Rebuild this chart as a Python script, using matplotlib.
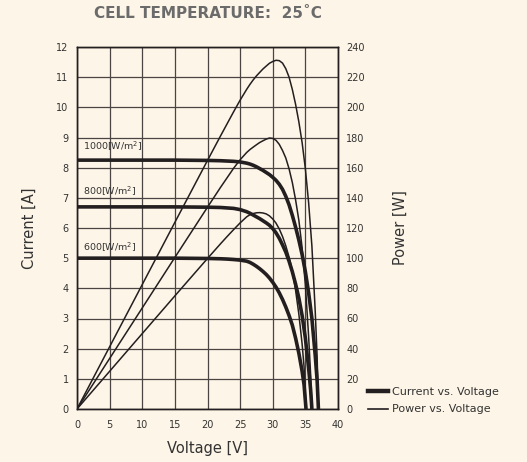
import matplotlib
matplotlib.use("Agg")
import matplotlib.pyplot as plt
from matplotlib.lines import Line2D

# ---------------- data ----------------
volt_1000 = [0, 5, 10, 15, 20, 22, 24, 25, 26, 26.5, 27, 27.5, 28, 28.5, 29, 29.5, 30, 30.5,
             31, 31.5, 32, 32.5, 33, 33.5, 34, 34.5, 35, 35.5, 36, 36.5, 36.8, 37]
curr_1000 = [8.25, 8.25, 8.25, 8.25, 8.24, 8.23, 8.21, 8.19, 8.15, 8.12, 8.08, 8.03, 7.97, 7.91,
             7.84, 7.77, 7.68, 7.58, 7.45, 7.28, 7.05, 6.77, 6.42, 6.03, 5.60, 5.12, 4.55, 3.85,
             3.00, 1.80, 0.95, 0]
power_1000 = [0, 41.25, 82.5, 123.75, 164.8, 181.06, 197.04, 204.75, 211.9, 215.18, 218.16,
              220.83, 223.16, 225.44, 227.36, 229.22, 230.4, 231.19, 230.95, 229.32, 225.6,
              220.03, 211.86, 202.01, 190.4, 176.64, 159.25, 136.68, 108.0, 65.7, 34.96, 0]

volt_800 = [0, 5, 10, 15, 20, 22, 24, 25, 26, 26.5, 27, 27.5, 28, 28.5, 29, 29.5, 30, 30.5,
            31, 31.5, 32, 32.5, 33, 33.5, 34, 34.5, 35, 35.5, 35.8, 36]
curr_800 = [6.70, 6.70, 6.70, 6.70, 6.69, 6.68, 6.65, 6.61, 6.54, 6.49, 6.43, 6.37, 6.31, 6.24,
            6.17, 6.09, 5.98, 5.84, 5.66, 5.44, 5.20, 4.90, 4.55, 4.14, 3.68, 3.10, 2.35, 1.35,
            0.65, 0]
power_800 = [0, 33.5, 67, 100.5, 133.8, 146.96, 159.6, 165.25, 170.04, 171.99, 173.61, 175.18,
             176.68, 177.84, 178.93, 179.66, 179.4, 178.12, 175.46, 171.36, 166.4, 159.25,
             150.15, 138.69, 125.12, 106.95, 82.25, 47.93, 23.27, 0]

volt_600 = [0, 5, 10, 15, 20, 22, 23, 24, 25, 26, 26.5, 27, 27.5, 28, 28.5, 29, 29.5, 30, 30.5,
            31, 31.5, 32, 32.5, 33, 33.5, 34, 34.5, 34.8, 35.1]
curr_600 = [5.00, 5.00, 5.00, 5.00, 4.99, 4.98, 4.97, 4.955, 4.935, 4.90, 4.86, 4.80, 4.73, 4.65,
            4.56, 4.46, 4.34, 4.20, 4.04, 3.85, 3.63, 3.38, 3.10, 2.78, 2.35, 1.85, 1.25, 0.80, 0]
power_600 = [0, 25, 50, 75, 99.8, 109.56, 114.31, 118.92, 123.38, 127.4, 128.79, 129.6, 130.08,
             130.2, 129.96, 129.34, 128.03, 126.0, 123.22, 119.35, 114.35, 108.16, 100.75, 91.74,
             78.73, 62.9, 43.13, 27.84, 0]

irradiance_labels = ["1000[W/m$^2$]", "800[W/m$^2$]", "600[W/m$^2$]"]
label_pos_current = [8.72, 7.2, 5.37]

x_ticks = [0, 5, 10, 15, 20, 25, 30, 35, 40]
current_ticks = list(range(0, 13))
power_ticks = list(range(0, 241, 20))

title_text = "CELL TEMPERATURE:  25\u02daC"
legend_labels = ["Current vs. Voltage", "Power vs. Voltage"]

# ---------------- style ----------------
BG = "#FDF5E7"
INK = "#231F20"
GRID = "#4a4442"
TXT = "#333333"

fig = plt.figure(figsize=(5.27, 4.62), dpi=100, facecolor=BG)
ax = fig.add_axes([77 / 527, 1 - 409 / 462, (338 - 77) / 527, (409 - 47) / 462])
ax.set_facecolor(BG)
ax2 = ax.twinx()

ax.set_xlim(0, 40)
ax.set_ylim(0, 12)
ax2.set_ylim(0, 240)

ax.set_xticks(x_ticks)
ax.set_yticks(current_ticks)
ax2.set_yticks(power_ticks)

ax.grid(True, color=GRID, linewidth=0.9, zorder=0)
ax.set_axisbelow(True)

for a in (ax, ax2):
    for s in a.spines.values():
        s.set_color(INK)
        s.set_linewidth(1.0)
    a.tick_params(length=0, labelsize=7, colors=TXT, pad=6)
ax.tick_params(axis="x", pad=8)

thick = 2.6
thin = 1.1
for v, c in ((volt_1000, curr_1000), (volt_800, curr_800), (volt_600, curr_600)):
    ax.plot(v, c, color=INK, linewidth=thick, solid_capstyle="butt", zorder=3, clip_on=True)
for v, p in ((volt_1000, power_1000), (volt_800, power_800), (volt_600, power_600)):
    ax2.plot(v, p, color=INK, linewidth=thin, zorder=3)

for lab, y in zip(irradiance_labels, label_pos_current):
    ax.text(0.9, y, lab, fontsize=6.8, color=TXT, va="center", ha="left", zorder=4)

ax.set_xlabel("Voltage [V]", fontsize=10.5, color=TXT, labelpad=8)
ax.set_ylabel("Current [A]", fontsize=10.5, color=TXT, labelpad=14)
ax2.set_ylabel("Power [W]", fontsize=10.5, color=TXT, labelpad=20)

fig.text(208 / 527, 1 - 13 / 462, title_text, fontsize=11, fontweight="bold",
         color="#6b6b6b", ha="center", va="center")

handles = [Line2D([0], [0], color=INK, linewidth=3.2),
           Line2D([0], [0], color=INK, linewidth=1.2)]
fig.legend(handles, legend_labels, loc="center left",
           bbox_to_anchor=(368 / 527, 1 - 400.5 / 462), frameon=False, fontsize=8,
           handlelength=1.8, handletextpad=0.4, labelspacing=0.7, borderpad=0,
           borderaxespad=0, labelcolor=TXT)

fig.savefig("out.png", dpi=100, facecolor=BG)
